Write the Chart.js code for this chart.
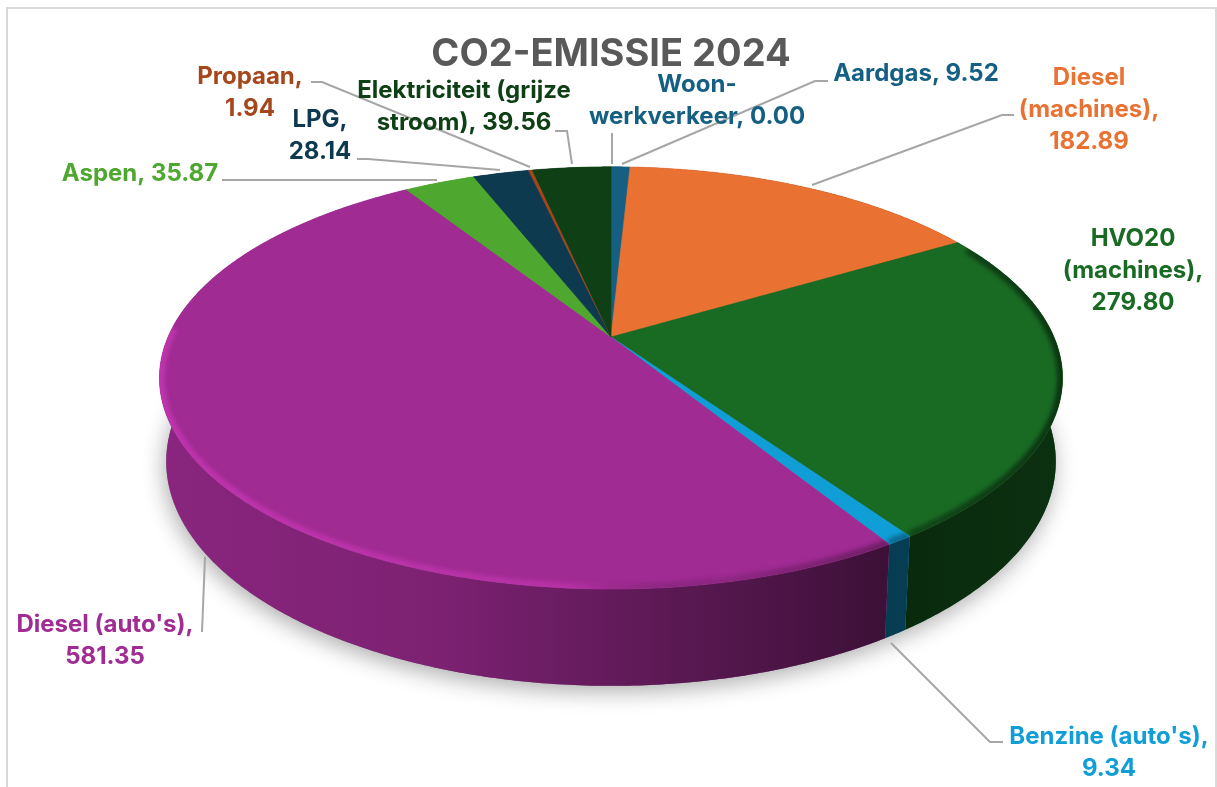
<!DOCTYPE html>
<html>
<head>
<meta charset="utf-8">
<title>CO2-emissie 2024</title>
<script src="https://cdn.jsdelivr.net/npm/chart.js@4/dist/chart.umd.min.js"></script>
<style>
  html, body { margin: 0; padding: 0; background: #fff; overflow: hidden; }
  #wrap { position: relative; width: 1217px; height: 787px; }
</style>
</head>
<body>
<div id="wrap"><canvas id="pie"></canvas></div>
<script>
const categories = ["Aardgas", "Diesel (machines)", "HVO20 (machines)", "Benzine (auto's)", "Diesel (auto's)", "Aspen", "LPG", "Propaan", "Elektriciteit (grijze stroom)", "Woon-werkverkeer"];
const co2Values = [9.52, 182.89, 279.80, 9.34, 581.35, 35.87, 28.14, 1.94, 39.56, 0.00];
const sliceColors = ["#156082", "#E97132", "#196B24", "#0F9ED5", "#A02B93", "#4EA72E", "#0D3A4F", "#A5461B", "#0F4015", "#156082"];

// label text lines per slice, the value is appended to the last line
const labelLines = [
  ["Aardgas, "],
  ["Diesel", "(machines),", ""],
  ["HVO20", "(machines),", ""],
  ["Benzine (auto's),", ""],
  ["Diesel (auto's),", ""],
  ["Aspen, "],
  ["LPG,", ""],
  ["Propaan,", ""],
  ["Elektriciteit (grijze", "stroom), "],
  ["Woon-", "werkverkeer, "]
];

// centre of the first label line, in page pixels
const labelPos = [[916, 74], [1089, 78], [1133, 239], [1109, 737], [105, 625], [140, 174], [320, 120], [250, 77], [464, 91], [697, 85]];
const lineGap = 32;

const leaders = [
  [[622, 164], [815, 81], [828, 81]],
  [[812, 185], [1002, 115], [1014, 115]],
  [],
  [[891, 643], [990, 742], [1003, 742]],
  [[205, 557], [202, 632]],
  [[222, 180], [437, 180]],
  [[357, 159], [368, 159], [500, 170]],
  [[311, 82], [322, 82], [530, 167]],
  [[555, 131], [567, 131], [572, 164]],
  [[612, 133], [612, 164]]
];

// perspective of the tilted disc, relative to the arc radius the library computes
const persp = { rx: 1.744, ry: 0.80, tilt: 0.194, depth: 0.319, bottomScale: 0.985 };

function project(arc, angle, lower) {
  const u = Math.cos(angle), v = Math.sin(angle);
  const w = 1 - persp.tilt * v;
  const s = lower ? persp.bottomScale : 1;
  const r = arc.outerRadius;
  return {
    x: arc.x + r * persp.rx * s * u / w,
    y: arc.y + (r * persp.ry * s * v + (lower ? r * persp.depth : 0)) / w
  };
}

function arcPoints(arc, a0, a1, lower) {
  const pts = [];
  const n = Math.max(2, Math.ceil((a1 - a0) / 0.01));
  for (let i = 0; i <= n; i++) {
    pts.push(project(arc, a0 + (a1 - a0) * i / n, lower));
  }
  return pts;
}

function tracePath(ctx, pts) {
  pts.forEach((p, i) => i ? ctx.lineTo(p.x, p.y) : ctx.moveTo(p.x, p.y));
}

const pie3d = {
  id: 'pie3d',
  beforeDraw(chart) {
    const ctx = chart.ctx;
    ctx.save();
    ctx.strokeStyle = '#d9d9d9';
    ctx.lineWidth = 2;
    ctx.strokeRect(7, 8, 1209, 800);
    ctx.restore();
  },
  beforeDatasetsDraw(chart) {
    const ctx = chart.ctx;
    const arcs = chart.getDatasetMeta(0).data;
    const first = arcs[0];

    // soft shadow under the base
    ctx.save();
    ctx.shadowColor = 'rgba(0,0,0,0.32)';
    ctx.shadowBlur = 22;
    ctx.shadowOffsetX = -2;
    ctx.shadowOffsetY = 6;
    ctx.fillStyle = '#888';
    ctx.beginPath();
    tracePath(ctx, arcPoints(first, 0, Math.PI * 2, true));
    ctx.closePath();
    ctx.fill();
    ctx.restore();

    const shade = ctx.createLinearGradient(160, 0, 1064, 0);
    shade.addColorStop(0, 'rgba(0,0,0,0.14)');
    shade.addColorStop(0.3, 'rgba(0,0,0,0.22)');
    shade.addColorStop(0.8, 'rgba(0,0,0,0.62)');
    shade.addColorStop(1, 'rgba(0,0,0,0.55)');

    // sides first, the top face covers the back part
    arcs.forEach((arc, i) => {
      if (arc.endAngle - arc.startAngle <= 0) return;
      const pts = arcPoints(arc, arc.startAngle, arc.endAngle, false)
        .concat(arcPoints(arc, arc.startAngle, arc.endAngle, true).reverse());
      ctx.beginPath();
      tracePath(ctx, pts);
      ctx.closePath();
      ctx.fillStyle = sliceColors[i];
      ctx.fill();
      ctx.fillStyle = shade;
      ctx.fill();
    });

    const rim = ctx.createLinearGradient(160, 0, 1064, 0);
    rim.addColorStop(0, 'rgba(215,60,195,0.55)');
    rim.addColorStop(0.45, 'rgba(215,60,195,0.4)');
    rim.addColorStop(0.62, 'rgba(0,0,0,0.1)');
    rim.addColorStop(0.85, 'rgba(0,0,0,0.35)');
    rim.addColorStop(1, 'rgba(0,0,0,0.5)');

    arcs.forEach((arc, i) => {
      if (arc.endAngle - arc.startAngle <= 0) return;
      const edge = arcPoints(arc, arc.startAngle, arc.endAngle, false);
      ctx.save();
      ctx.beginPath();
      tracePath(ctx, edge);
      ctx.lineTo(arc.x, arc.y);
      ctx.closePath();
      ctx.fillStyle = sliceColors[i];
      ctx.fill();
      ctx.strokeStyle = sliceColors[i];
      ctx.lineWidth = 0.6;
      ctx.stroke();
      ctx.clip();

      // bevel along the front edge of the top face
      ctx.filter = 'blur(2px)';
      ctx.strokeStyle = rim;
      ctx.lineWidth = 11;
      ctx.beginPath();
      let pen = false;
      const n = edge.length - 1;
      edge.forEach((p, k) => {
        const a = arc.startAngle + (arc.endAngle - arc.startAngle) * k / n;
        const limit = Math.cos(a) < 0 ? -0.05 : -0.48;
        if (Math.sin(a) > limit) {
          pen ? ctx.lineTo(p.x, p.y) : ctx.moveTo(p.x, p.y);
          pen = true;
        } else {
          pen = false;
        }
      });
      ctx.stroke();
      ctx.restore();
    });

    return false;
  },
  afterDraw(chart) {
    const ctx = chart.ctx;
    ctx.save();
    ctx.strokeStyle = '#a6a6a6';
    ctx.lineWidth = 2;
    leaders.forEach(line => {
      if (!line.length) return;
      ctx.beginPath();
      line.forEach((p, i) => i ? ctx.lineTo(p[0], p[1]) : ctx.moveTo(p[0], p[1]));
      ctx.stroke();
    });

    ctx.font = '700 24px Inter';
    ctx.textAlign = 'center';
    ctx.textBaseline = 'middle';
    labelLines.forEach((lines, i) => {
      ctx.fillStyle = sliceColors[i];
      lines.forEach((text, k) => {
        const full = k === lines.length - 1 ? text + co2Values[i].toFixed(2) : text;
        ctx.fillText(full, labelPos[i][0], labelPos[i][1] + k * lineGap);
      });
    });
    ctx.restore();
  }
};

const canvas = document.getElementById('pie');
new Chart(canvas.getContext('2d'), {
  type: 'pie',
  data: {
    labels: categories,
    datasets: [{
      data: co2Values,
      backgroundColor: sliceColors,
      borderWidth: 0
    }]
  },
  options: {
    responsive: true,
    maintainAspectRatio: false,
    animation: false,
    layout: { padding: { left: 5, top: 17.4, bottom: 196 } },
    plugins: {
      legend: { display: false },
      tooltip: { enabled: false },
      title: {
        display: true,
        text: 'CO2-EMISSIE 2024',
        color: '#595959',
        padding: { top: 14.5, bottom: 5.5 },
        font: { family: 'Inter', size: 38, weight: '700' }
      }
    }
  },
  plugins: [pie3d]
});
</script>
</body>
</html>
